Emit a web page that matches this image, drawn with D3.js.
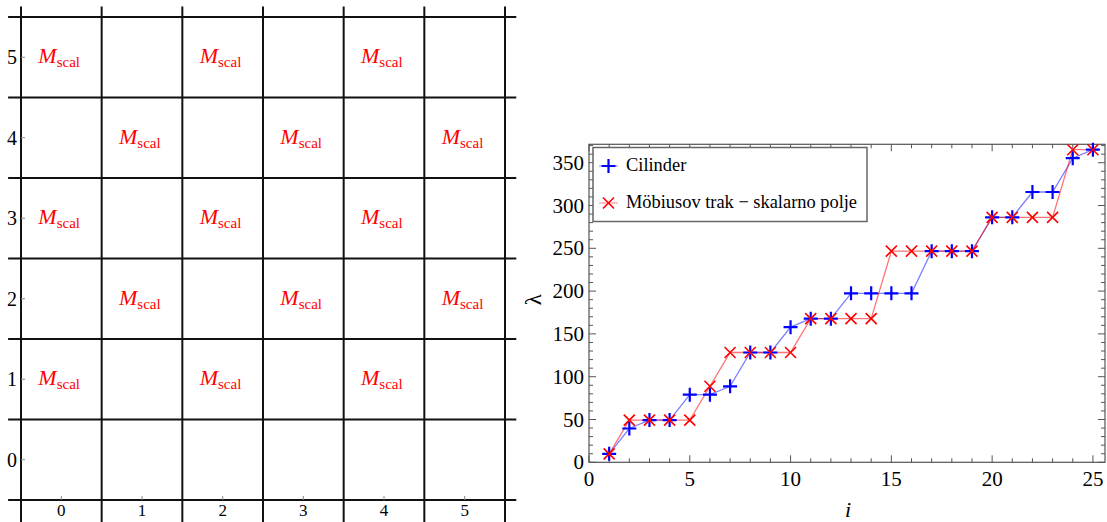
<!DOCTYPE html>
<html>
<head>
<meta charset="utf-8">
<script src="https://cdn.jsdelivr.net/npm/d3@7"></script>
<style>
  body { margin: 0; background: #fff; }
  svg { display: block; font-family: "Liberation Serif", "DejaVu Serif", serif; }
</style>
</head>
<body>
<div id="chart"></div>
<script>
// *** Grid of M_scal cells + eigenvalue comparison ***

// left panel data
let gridTicks = [0, 1, 2, 3, 4, 5];
let gridLines = [-0.5, 0.5, 1.5, 2.5, 3.5, 4.5, 5.5];
let cellX = [0, 2, 4, 1, 3, 5, 0, 2, 4, 1, 3, 5, 0, 2, 4];
let cellY = [5, 5, 5, 4, 4, 4, 3, 3, 3, 2, 2, 2, 1, 1, 1];

// right panel data
let index = [1, 2, 3, 4, 5, 6, 7, 8, 9, 10, 11, 12, 13, 14, 15, 16, 17, 18, 19, 20, 21, 22, 23, 24, 25];
let cylinder = [9.87, 39.5, 49.3, 49.3, 79.0, 79.0, 88.8, 128.3, 128.3, 157.9, 167.8, 167.8, 197.4,
    197.4, 197.4, 197.4, 246.7, 246.7, 246.7, 286.2, 286.2, 315.8, 315.8, 355.3, 365.2];
let mobius = [9.87, 49.3, 49.3, 49.3, 49.3, 88.8, 128.3, 128.3, 128.3, 128.3, 167.8, 167.8, 167.8,
    167.8, 246.7, 246.7, 246.7, 246.7, 246.7, 286.2, 286.2, 286.2, 286.2, 365.2, 365.2];
let xTicks = [0, 5, 10, 15, 20, 25];
let yTicks = [0, 50, 100, 150, 200, 250, 300, 350];
let seriesNames = ["Cilinder", "Möbiusov trak \u2212 skalarno polje"];

let svgWidth = 1107;
let svgHeight = 522;

let svg = d3.select("#chart")
    .append("svg")
    .attr("width", svgWidth)
    .attr("height", svgHeight);

// ---------- left panel ----------
let gx = d3.scaleLinear().domain([-0.5, 5.5]).range([21, 505]);
let gy = d3.scaleLinear().domain([-0.5, 5.5]).range([500, 17]);

let left = svg.append("g");

// grid lines (extend past the frame like the original)
left.selectAll(".hline")
    .data(gridLines)
    .enter()
    .append("line")
    .attr("x1", gx(-0.66))
    .attr("x2", gx(5.64))
    .attr("y1", d => gy(d))
    .attr("y2", d => gy(d))
    .attr("stroke", "#111")
    .attr("stroke-width", 2);

left.selectAll(".vline")
    .data(gridLines)
    .enter()
    .append("line")
    .attr("y1", gy(5.63))
    .attr("y2", gy(-0.8))
    .attr("x1", d => gx(d))
    .attr("x2", d => gx(d))
    .attr("stroke", "#111")
    .attr("stroke-width", 2);

// little ticks + labels
left.selectAll(".ytick")
    .data(gridTicks)
    .enter()
    .append("line")
    .attr("x1", gx(-0.5))
    .attr("x2", gx(-0.5) + 4)
    .attr("y1", d => gy(d))
    .attr("y2", d => gy(d))
    .attr("stroke", "#888");

left.selectAll(".xtick")
    .data(gridTicks)
    .enter()
    .append("line")
    .attr("y1", gy(-0.5))
    .attr("y2", gy(-0.5) - 4)
    .attr("x1", d => gx(d))
    .attr("x2", d => gx(d))
    .attr("stroke", "#888");

left.selectAll(".ylab")
    .data(gridTicks)
    .enter()
    .append("text")
    .attr("x", 12)
    .attr("y", d => gy(d) + 7)
    .attr("text-anchor", "middle")
    .attr("font-size", "20px")
    .text(d => d);

left.selectAll(".xlab")
    .data(gridTicks)
    .enter()
    .append("text")
    .attr("x", d => gx(d))
    .attr("y", 516)
    .attr("text-anchor", "middle")
    .attr("font-size", "17px")
    .text(d => d);

// M_scal labels
let cellLabels = left.selectAll(".cell")
    .data(cellX.map((x, i) => ({x: x, y: cellY[i]})))
    .enter()
    .append("text")
    .attr("x", d => gx(d.x) - 23)
    .attr("y", d => gy(d.y) + 6)
    .attr("fill", "#ff0000");

cellLabels.append("tspan")
    .attr("font-style", "italic")
    .attr("font-size", "22px")
    .text("M");

cellLabels.append("tspan")
    .attr("font-size", "15px")
    .attr("dy", 4)
    .text("scal");

// ---------- right panel ----------
let x = d3.scaleLinear().domain([0, 25.6]).range([589, 1105]);
let y = d3.scaleLinear().domain([0, 371.5]).range([462.3, 144.3]);

let right = svg.append("g");

// frame
right.append("rect")
    .attr("x", x(0))
    .attr("y", y(371.5))
    .attr("width", x(25.6) - x(0))
    .attr("height", y(0) - y(371.5))
    .attr("fill", "none")
    .attr("stroke", "#555")
    .attr("stroke-width", 1.2);

// ticks on all four sides, inward
let xMinor = d3.range(0, 26, 1);
let yMinor = d3.range(0, 371, 10);
let tickCol = "#555";

function xTickLen(d) { return d % 5 === 0 ? 7 : 4; }
function yTickLen(d) { return d % 50 === 0 ? 7 : 4; }

right.selectAll(".xb")
    .data(xMinor)
    .enter()
    .append("line")
    .attr("x1", d => x(d)).attr("x2", d => x(d))
    .attr("y1", y(0)).attr("y2", d => y(0) - xTickLen(d))
    .attr("stroke", tickCol);

right.selectAll(".xt")
    .data(xMinor)
    .enter()
    .append("line")
    .attr("x1", d => x(d)).attr("x2", d => x(d))
    .attr("y1", y(371.5)).attr("y2", d => y(371.5) + xTickLen(d))
    .attr("stroke", tickCol);

right.selectAll(".yl")
    .data(yMinor)
    .enter()
    .append("line")
    .attr("y1", d => y(d)).attr("y2", d => y(d))
    .attr("x1", x(0)).attr("x2", d => x(0) + yTickLen(d))
    .attr("stroke", tickCol);

right.selectAll(".yr")
    .data(yMinor)
    .enter()
    .append("line")
    .attr("y1", d => y(d)).attr("y2", d => y(d))
    .attr("x1", x(25.6)).attr("x2", d => x(25.6) - yTickLen(d))
    .attr("stroke", tickCol);

right.selectAll(".xlabel")
    .data(xTicks)
    .enter()
    .append("text")
    .attr("x", d => x(d))
    .attr("y", y(0) + 24)
    .attr("text-anchor", "middle")
    .attr("font-size", "21px")
    .text(d => d);

right.selectAll(".ylabel")
    .data(yTicks)
    .enter()
    .append("text")
    .attr("x", x(0) - 5)
    .attr("y", d => y(d) + 7)
    .attr("text-anchor", "end")
    .attr("font-size", "21px")
    .text(d => d);

// axis titles
right.append("text")
    .attr("transform", `translate(541, ${y(190)}) rotate(-90)`)
    .attr("text-anchor", "middle")
    .attr("font-size", "23px")
    .text("\u03bb");

right.append("text")
    .attr("x", x(12.85))
    .attr("y", 517)
    .attr("text-anchor", "middle")
    .attr("font-size", "22px")
    .attr("font-style", "italic")
    .text("i");

// lines
let lineGen = vals => d3.line()
    .x((d, i) => x(index[i]))
    .y(d => y(d))(vals);

right.append("path")
    .attr("d", lineGen(cylinder))
    .attr("fill", "none")
    .attr("stroke", "#0000ff")
    .attr("stroke-opacity", 0.5)
    .attr("stroke-width", 1.3);

right.append("path")
    .attr("d", lineGen(mobius))
    .attr("fill", "none")
    .attr("stroke", "#ff0000")
    .attr("stroke-opacity", 0.55)
    .attr("stroke-width", 1.3);

// markers
function plusPath(s) { return `M${-s},0H${s}M0,${-s}V${s}`; }
function crossPath(s) { return `M${-s},${-s}L${s},${s}M${-s},${s}L${s},${-s}`; }

right.selectAll(".plus")
    .data(cylinder)
    .enter()
    .append("path")
    .attr("transform", (d, i) => `translate(${x(index[i])},${y(d)})`)
    .attr("d", plusPath(7))
    .attr("stroke", "#0000ff")
    .attr("stroke-width", 2.2)
    .attr("fill", "none");

right.selectAll(".cross")
    .data(mobius)
    .enter()
    .append("path")
    .attr("transform", (d, i) => `translate(${x(index[i])},${y(d)})`)
    .attr("d", crossPath(5.5))
    .attr("stroke", "#ff0000")
    .attr("stroke-width", 1.6)
    .attr("fill", "none");

// legend
let legend = right.append("g");

legend.append("rect")
    .attr("x", 593)
    .attr("y", 147.5)
    .attr("width", 274)
    .attr("height", 74)
    .attr("fill", "#fff")
    .attr("stroke", "#666")
    .attr("stroke-width", 1.5);

let legendRows = [
    {name: seriesNames[0], color: "#0000ff", path: plusPath(7), w: 2.2, cy: 166},
    {name: seriesNames[1], color: "#ff0000", path: crossPath(5.5), w: 1.6, cy: 203}
];

legendRows.forEach(function(r) {
    legend.append("line")
        .attr("x1", 599).attr("x2", 618)
        .attr("y1", r.cy).attr("y2", r.cy)
        .attr("stroke", r.color)
        .attr("stroke-opacity", 0.4)
        .attr("stroke-width", 1.2);
    legend.append("path")
        .attr("transform", `translate(608.5,${r.cy})`)
        .attr("d", r.path)
        .attr("stroke", r.color)
        .attr("stroke-width", r.w)
        .attr("fill", "none");
    legend.append("text")
        .attr("x", 626)
        .attr("y", r.cy + 5)
        .attr("font-size", "18.4px")
        .text(r.name);
});
</script>
</body>
</html>
